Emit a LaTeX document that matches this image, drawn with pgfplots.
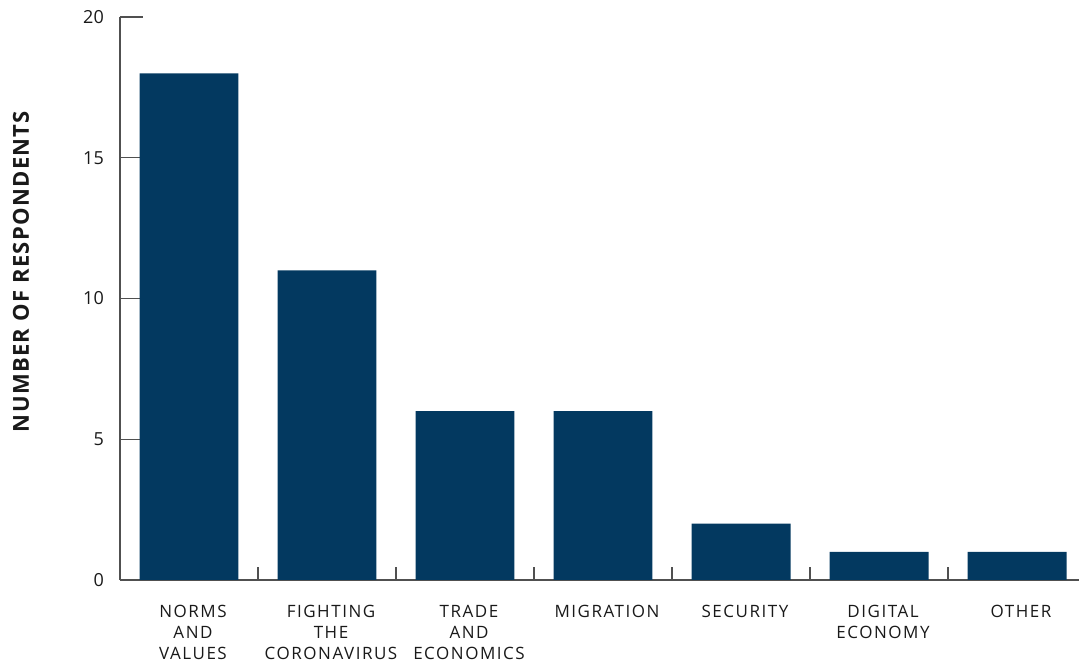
\documentclass[border=0pt]{standalone}
\usepackage{fontspec}
\setmainfont{Open Sans}
\newfontfamily\lblfont[LetterSpace=9]{Open Sans}
\newfontfamily\ylblfont[LetterSpace=6]{Open Sans}
\usepackage{pgfplots}
\pgfplotsset{compat=1.18}
\definecolor{barblue}{RGB}{3,57,96}
\definecolor{axgrey}{RGB}{80,80,80}
\begin{document}
\begin{tikzpicture}
\useasboundingbox (-120pt,-86pt) rectangle (959pt,580pt);
\begin{axis}[
  at={(0,0)}, anchor=south west,
  scale only axis, width=959pt, height=563pt,
  xmin=-0.5, xmax=6.449, ymin=0, ymax=20,
  axis x line=bottom, axis y line=left,
  axis line style={-, draw=axgrey, line width=1.4pt},
  tick align=inside,
  major tick length=23pt, minor tick length=13pt,
  ytick={0,5,10,15,20},
  ytick style={draw=axgrey, line width=1.4pt},
  xtick={0,1,2,3,4,5,6},
  xtick style={draw=none},
  minor xtick={-0.5,0.5,1.5,2.5,3.5,4.5,5.5},
  minor x tick style={draw=axgrey, line width=1.4pt},
  xticklabels={NORMS\\AND\\VALUES, FIGHTING\\THE\\CORONAVIRUS, TRADE\\AND\\ECONOMICS, MIGRATION, SECURITY, DIGITAL\\ECONOMY, OTHER},
  xticklabel style={align=center, inner sep=0pt, anchor=north, xshift=4pt, font=\lblfont\fontsize{17}{21}\selectfont, text=black!90},
  xticklabel shift=25pt,
  yticklabel style={inner sep=0pt, anchor=east, font=\fontsize{18}{20}\selectfont, text=black!90},
  yticklabel shift=16pt,
  /pgf/number format/assume math mode=true,
  ylabel={NUMBER OF RESPONDENTS},
  ylabel style={at={(axis description cs:-0.1032,0.548)}, anchor=center, rotate=0, font=\ylblfont\bfseries\fontsize{22}{24}\selectfont, text=black!90},
]
\addplot[ybar, fill=barblue, draw=none, bar width=0.717] coordinates {(0,18) (1,11) (2,6) (3,6) (4,2) (5,1) (6,1)};
\end{axis}
\end{tikzpicture}
\end{document}
